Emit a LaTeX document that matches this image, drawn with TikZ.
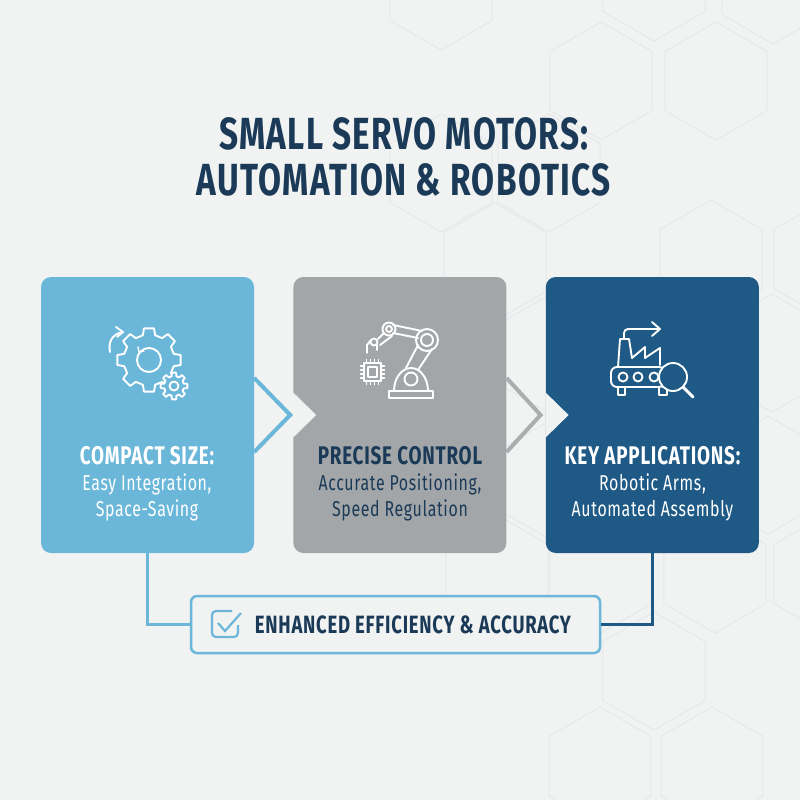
\documentclass[tikz,border=0pt]{standalone}
\usepackage{fontspec}
\setmainfont{Fira Sans}[FakeStretch=0.74,LetterSpace=3]
\usepackage{tikz}
\usetikzlibrary{arrows.meta,positioning}
\definecolor{PageGray}{HTML}{F1F2F2}
\definecolor{HexGray}{HTML}{E6E8E9}
\definecolor{SkyBlue}{HTML}{6BB7DA}
\definecolor{SteelGray}{HTML}{A3A6A9}
\definecolor{ChevGray}{HTML}{ABADAF}
\definecolor{DeepBlue}{HTML}{1F5A86}
\definecolor{InkBlue}{HTML}{1A3A58}

% one toothed wheel: centre, outer radius, root radius, hole radius
\newcommand{\GearShape}[5]{%
  \draw[IconStyle,fill=#5,shift={(#1)}]
    (-14:#3) \foreach \a in {0,45,...,315}{
      -- (\a-14:#3) -- (\a-9:#2) -- (\a+9:#2) -- (\a+14:#3)}
    -- cycle;
  \draw[IconStyle,shift={(#1)}] (0,0) circle (#4);}

\begin{document}
\begin{tikzpicture}[x=1pt,y=-1pt,node distance = 39 pt]
  \tikzset{HexStyle/.style     = {draw = HexGray, line width = 1 pt, line join = miter}}
  \tikzset{CardStyle/.style    = {shape          = rectangle,
                                  rounded corners = 10 pt,
                                  minimum width  = 213 pt,
                                  minimum height = 276 pt,
                                  inner sep      = 0 pt}}
  \tikzset{NotchStyle/.style   = {fill = PageGray}}
  \tikzset{ChevronStyle/.style = {line width = 4 pt, line join = miter}}
  \tikzset{LinkStyle/.style    = {line width = 2.5 pt}}
  \tikzset{IconStyle/.style    = {draw = white, line width = 1.9 pt, line join = round, line cap = round}}
  \tikzset{TitleStyle/.style   = {text = InkBlue, align = center, inner sep = 0 pt,
                                  font = \fontsize{45}{46.5}\selectfont\bfseries}}
  \tikzset{TextStyle/.style    = {align = center, inner sep = 0 pt, anchor = base,
                                  font = \fontsize{21.5}{26}\selectfont}}

  \useasboundingbox (0,0) rectangle (800,800);
  \fill[PageGray] (0,0) rectangle (800,800);

  % background honeycomb
  \foreach \hx/\hy in {441/-9,654/-18,773/-15,601/81,716/81,441/173,549/173,495/262,
                       711/259,825/259,549/354,772/353,549/480,768/475,497/574,601/574,
                       715/574,825/574,654/671,600/766,712/766}
    \draw[HexStyle] (\hx,\hy) +(30:59) -- +(90:59) -- +(150:59) -- +(210:59)
                              -- +(270:59) -- +(330:59) -- cycle;

  \node[TitleStyle](Title) at (404,157){SMALL SERVO MOTORS:\\AUTOMATION \& ROBOTICS};

  \node[CardStyle,fill=SkyBlue](CardA) at (147.5,415){};
  \node[CardStyle,fill=SteelGray,right=of CardA](CardB){};
  \node[CardStyle,fill=DeepBlue,right=of CardB](CardC){};

  \fill[NotchStyle] ([yshift=22.5pt]CardB.west) -- ([xshift=23pt]CardB.west) -- ([yshift=-22.5pt]CardB.west) -- cycle;
  \fill[NotchStyle] ([yshift=22.5pt]CardC.west) -- ([xshift=23pt]CardC.west) -- ([yshift=-22.5pt]CardC.west) -- cycle;

  \draw[ChevronStyle,SkyBlue] ([yshift=37pt]CardA.east) -- ([xshift=36pt]CardA.east) -- ([yshift=-37pt]CardA.east);
  \draw[ChevronStyle,ChevGray] ([yshift=37pt]CardB.east) -- ([xshift=34pt]CardB.east) -- ([yshift=-37pt]CardB.east);

  \node[TextStyle,text=white](TextA) at (147,516.5){{\fontsize{25.5}{26}\selectfont\bfseries COMPACT SIZE:}\\Easy Integration,\\Space-Saving};
  \node[TextStyle,text=InkBlue](TextB) at (400,516.5){{\fontsize{25.5}{26}\selectfont\bfseries PRECISE CONTROL}\\Accurate Positioning,\\Speed Regulation};
  \node[TextStyle,text=white](TextC) at (652.5,516.5){{\fontsize{25.5}{26}\selectfont\bfseries KEY APPLICATIONS:}\\Robotic Arms,\\Automated Assembly};

  % gear icon
  \GearShape{149,360}{32}{25.5}{12}{SkyBlue}
  \GearShape{174,386}{13.5}{10}{4.5}{SkyBlue}
  \draw[IconStyle] (110,352) .. controls (108,342) and (112,334) .. (123,332);
  \draw[IconStyle] (116,327) -- (123,332) -- (117,337);
  \draw[IconStyle,line width=1.4pt] (138,347) -- (139,352) -- (144,351);

  % robot arm icon
  \draw[IconStyle] (389,391) rectangle (433,398);
  \draw[IconStyle] (394,391) arc[start angle=180,end angle=360,x radius=17,y radius=23] -- cycle;
  \draw[IconStyle] (411,379) circle (6.5);
  \draw[IconStyle] (406,368) -- (418,345) (418,370) -- (432,349);
  \draw[IconStyle] (427,340) circle (11) (427,340) circle (6);
  \draw[IconStyle] (393,325) -- (422,331) (393,333) -- (418,338);
  \draw[IconStyle] (389,329) circle (6.5) (389,329) circle (3);
  \draw[IconStyle] (384,333) -- (378,339) (392,336) -- (380,345);
  \draw[IconStyle] (374,342) circle (3.5);
  \draw[IconStyle] (367,353) -- (367,345) -- (371,340) (377,350) -- (377,345);
  \draw[IconStyle,line width=1.5pt] (364,363) rectangle (381,381) (368,367) rectangle (377,377);
  \foreach \p in {-6,-2,2,6}{
    \draw[IconStyle,line width=1.4pt] (372.5+\p,363) -- +(0,-3.5) (372.5+\p,381) -- +(0,3.5);
    \draw[IconStyle,line width=1.4pt] (364,372+\p) -- +(-3.5,0) (381,372+\p) -- +(3.5,0);}

  % factory icon
  \draw[IconStyle,rounded corners=6pt] (611,367) rectangle (665,387);
  \draw[IconStyle] (618,387) -- (618,395) -- (625,395) -- (625,387) (659,387) -- (659,395) -- (667,395) -- (667,387);
  \draw[IconStyle] (623,377) circle (4.5) (638,377) circle (4.5) (654,377) circle (4.5);
  \draw[IconStyle] (618,367) -- (620,339) -- (629,339) -- (632,358) -- (645,347) -- (645,358) -- (660,348) -- (660,365);
  \draw[IconStyle,rounded corners=4pt] (624,339) -- (624,329) -- (659,329);
  \draw[IconStyle] (652,322) -- (660,329) -- (652,336);
  \draw[IconStyle,fill=DeepBlue] (673,377) circle (14);
  \draw[IconStyle,line width=3pt] (683,387) -- (693,397);

  % result strip at the bottom
  \node[draw=SkyBlue,line width=2.5pt,fill=PageGray,rounded corners=6pt,minimum width=409pt,minimum height=57pt,inner sep=0pt](Result) at (395.5,624.5){};
  \node[right=0pt of Result.west,xshift=65pt,inner sep=0pt,text=InkBlue,font=\fontsize{25}{26}\selectfont\bfseries](ResultText){ENHANCED EFFICIENCY \& ACCURACY};
  \draw[SkyBlue,line width=2.2pt,rounded corners=4pt] (232,611) -- (212,611) -- (212,637) -- (238,637) -- (238,625);
  \draw[SkyBlue,line width=2.2pt] (218,623) -- (225,631) -- (241,613);

  \draw[LinkStyle,SkyBlue](CardA.south) |- (Result.west);
  \draw[LinkStyle,DeepBlue](CardC.south) |- (Result.east);
\end{tikzpicture}
\end{document}
